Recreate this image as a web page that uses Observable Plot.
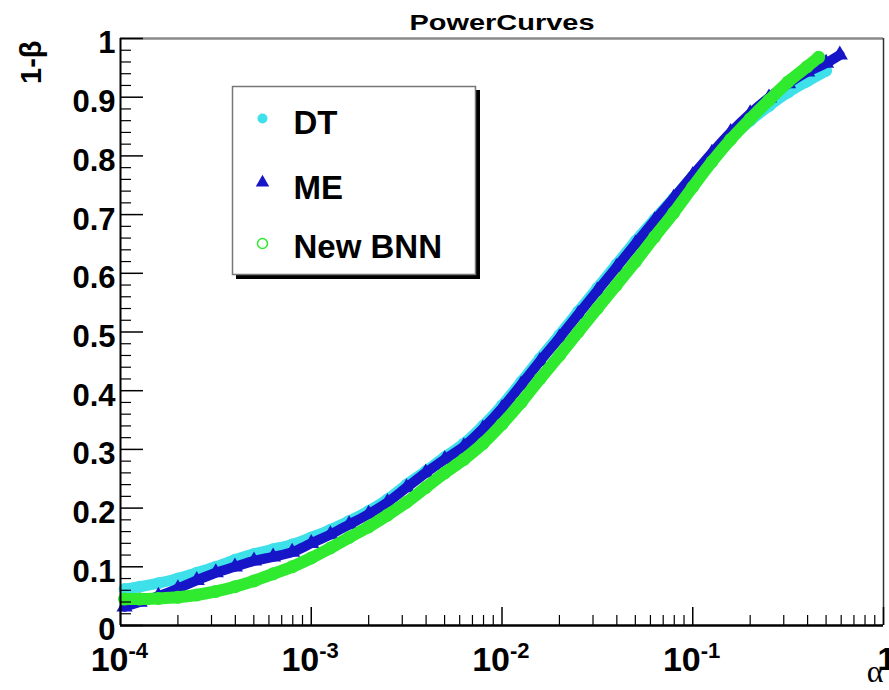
<!DOCTYPE html>
<html><head><meta charset="utf-8">
<script src="https://cdn.jsdelivr.net/npm/d3@7"></script>
<script src="https://cdn.jsdelivr.net/npm/@observablehq/plot@0.6"></script>
<style>body{margin:0;background:#fff} svg{display:block}</style>
</head><body><div id="chart"></div>
<script>
// ---- data ----
const alphaDT  = [1.05e-4,1.26e-4,1.58e-4,2.0e-4,2.51e-4,3.16e-4,3.98e-4,5.01e-4,6.31e-4,7.94e-4,1.0e-3,1.26e-3,1.58e-3,2.0e-3,2.51e-3,3.16e-3,3.98e-3,5.01e-3,6.31e-3,7.94e-3,1.0e-2,1.26e-2,1.58e-2,2.0e-2,2.51e-2,3.16e-2,3.98e-2,5.01e-2,6.31e-2,7.94e-2,0.1,0.126,0.158,0.2,0.251,0.316,0.398,0.5];
const powerDT  = [0.062,0.066,0.072,0.080,0.090,0.100,0.112,0.122,0.130,0.138,0.150,0.163,0.178,0.195,0.215,0.240,0.263,0.287,0.310,0.340,0.375,0.415,0.455,0.495,0.535,0.575,0.615,0.655,0.692,0.728,0.765,0.800,0.830,0.860,0.885,0.908,0.927,0.945];
const alphaME  = [1.05e-4,1.26e-4,1.58e-4,2.0e-4,2.51e-4,3.16e-4,3.98e-4,5.01e-4,6.31e-4,7.94e-4,1.0e-3,1.26e-3,1.58e-3,2.0e-3,2.51e-3,3.16e-3,3.98e-3,5.01e-3,6.31e-3,7.94e-3,1.0e-2,1.26e-2,1.58e-2,2.0e-2,2.51e-2,3.16e-2,3.98e-2,5.01e-2,6.31e-2,7.94e-2,0.1,0.126,0.158,0.2,0.251,0.316,0.398,0.5,0.59];
const powerME  = [0.032,0.040,0.050,0.063,0.077,0.090,0.100,0.110,0.117,0.125,0.140,0.155,0.172,0.190,0.210,0.235,0.260,0.283,0.305,0.335,0.370,0.410,0.450,0.490,0.530,0.570,0.610,0.650,0.690,0.728,0.767,0.805,0.840,0.872,0.899,0.923,0.943,0.958,0.972];
const alphaBNN = [1.05e-4,1.26e-4,1.58e-4,2.0e-4,2.51e-4,3.16e-4,3.98e-4,5.01e-4,6.31e-4,7.94e-4,1.0e-3,1.26e-3,1.58e-3,2.0e-3,2.51e-3,3.16e-3,3.98e-3,5.01e-3,6.31e-3,7.94e-3,1.0e-2,1.26e-2,1.58e-2,2.0e-2,2.51e-2,3.16e-2,3.98e-2,5.01e-2,6.31e-2,7.94e-2,0.1,0.126,0.158,0.2,0.251,0.316,0.398,0.457];
const powerBNN = [0.045,0.045,0.046,0.048,0.052,0.058,0.066,0.076,0.088,0.100,0.115,0.132,0.150,0.168,0.188,0.210,0.235,0.260,0.283,0.310,0.343,0.380,0.420,0.460,0.500,0.540,0.580,0.620,0.662,0.703,0.747,0.790,0.828,0.863,0.895,0.926,0.952,0.968];

const seriesNames  = ["DT","ME","New BNN"];
const seriesColors = ["#3ee0ea","#1616c8","#30ea30"];

const yTickValues = [0,0.1,0.2,0.3,0.4,0.5,0.6,0.7,0.8,0.9,1];
const yTickLabels = ["0","0.1","0.2","0.3","0.4","0.5","0.6","0.7","0.8","0.9","1"];
const xTickValues = [1e-4,1e-3,1e-2,1e-1,1];
const xTickBase   = ["10","10","10","10",""];
const xTickExp    = ["-4","-3","-2","-1",""];
const xTickPlain  = ["","","","","1"];

const titleText = "PowerCurves";
const yTitle = "1-\u03B2";
const xTitle = "\u03B1";

// ---- layout ----
const W = 889, H = 690, mL = 120, mR = 6, mT = 38, mB = 65;
const fw = W - mL - mR, fh = H - mT - mB;
const font = "Liberation Sans, Arial, Helvetica, sans-serif";

const rows = (xs, ys) => xs.map((a, i) => ({alpha: a, power: ys[i]}));
const dt = rows(alphaDT, powerDT), me = rows(alphaME, powerME), bnn = rows(alphaBNN, powerBNN);

const yMinor = d3.range(0, 1.0001, 0.02).filter(v => Math.abs(v*10 - Math.round(v*10)) > 1e-6);
const xMinor = [];
for (let e = -4; e < 0; e++) for (let k = 2; k <= 9; k++) xMinor.push(k * Math.pow(10, e));

const legendMarks = [];
const legendDy = [80, 144, 205];
const legendTextDy = [95, 160, 219];
const symbols = ["circle", "triangle", "circle"];
seriesNames.forEach((name, i) => {
  legendMarks.push(Plot.dot([name], {frameAnchor: "top-left", dx: 142, dy: legendDy[i], r: 5,
    symbol: symbols[i], fill: i === 2 ? "none" : seriesColors[i], stroke: i === 2 ? seriesColors[i] : "none", strokeWidth: 1.5}));
  legendMarks.push(Plot.text([name], {text: d => d, frameAnchor: "top-left", dx: 173, dy: legendTextDy[i],
    textAnchor: "start", lineAnchor: "bottom", fontSize: 33, fontWeight: "bold", fill: "black"}));
});

const chart = Plot.plot({
  width: W, height: H,
  marginLeft: mL, marginRight: mR, marginTop: mT, marginBottom: mB,
  style: {fontFamily: font, background: "white", color: "black", overflow: "visible"},
  x: {type: "log", domain: [1e-4, 1], axis: null},
  y: {domain: [0, 1], axis: null},
  marks: [
    // DT
    Plot.line(dt, {x: "alpha", y: "power", stroke: seriesColors[0], strokeWidth: 11, strokeLinecap: "round", strokeLinejoin: "round", curve: "monotone-x"}),
    Plot.dot(dt, {x: "alpha", y: "power", r: 6, fill: seriesColors[0], symbol: "circle"}),
    // ME
    Plot.line(me, {x: "alpha", y: "power", stroke: seriesColors[1], strokeWidth: 10, strokeLinecap: "round", strokeLinejoin: "round", curve: "monotone-x"}),
    Plot.dot(me, {x: "alpha", y: "power", r: 6, fill: seriesColors[1], symbol: "triangle"}),
    // New BNN
    Plot.line(bnn, {x: "alpha", y: "power", stroke: seriesColors[2], strokeWidth: 12, strokeLinecap: "round", strokeLinejoin: "round", curve: "monotone-x"}),
    Plot.dot(bnn, {x: "alpha", y: "power", r: 5.5, fill: "none", stroke: seriesColors[2], strokeWidth: 2, symbol: "circle"}),

    // frame
    Plot.ruleY([1], {y: d => d, stroke: "#8a8a8a", strokeWidth: 2.5}),
    Plot.ruleX([1], {x: d => d, stroke: "#333", strokeWidth: 1.5}),
    Plot.ruleX([1e-4], {x: d => d, stroke: "black", strokeWidth: 2}),
    Plot.ruleY([0], {y: d => d, stroke: "black", strokeWidth: 2.5}),

    // y ticks
    Plot.ruleY(yTickValues, {y: d => d, insetRight: fw - 23, stroke: "black", strokeWidth: 1.5}),
    Plot.ruleY(yMinor, {y: d => d, insetRight: fw - 11, stroke: "black", strokeWidth: 1.2}),
    // x ticks
    Plot.ruleX(xTickValues, {x: d => d, insetTop: fh - 18, stroke: "black", strokeWidth: 1.5}),
    Plot.ruleX(xMinor, {x: d => d, insetTop: fh - 10, stroke: "black", strokeWidth: 1.2}),

    // tick labels
    Plot.text(yTickValues, {y: d => d, text: (d, i) => yTickLabels[i], frameAnchor: "left", textAnchor: "end",
      dx: -5, dy: 5, fontSize: 31, fontWeight: "bold", fill: "black"}),
    Plot.text(xTickValues, {x: d => d, text: (d, i) => xTickBase[i], frameAnchor: "bottom", textAnchor: "end",
      lineAnchor: "bottom", dx: 8, dy: 45, fontSize: 34, fontWeight: "bold", fill: "black"}),
    Plot.text(xTickValues, {x: d => d, text: (d, i) => xTickExp[i], frameAnchor: "bottom", textAnchor: "start",
      lineAnchor: "bottom", dx: 8, dy: 32, fontSize: 22, fontWeight: "bold", fill: "black"}),
    Plot.text(xTickValues, {x: d => d, text: (d, i) => xTickPlain[i], frameAnchor: "bottom", textAnchor: "middle",
      lineAnchor: "bottom", dx: 3, dy: 44, fontSize: 32, fontWeight: "bold", fill: "black"}),

    // titles
    Plot.text([titleText], {text: d => d, frameAnchor: "top", lineAnchor: "bottom", dy: -9, fontSize: 22,
      fontWeight: "bold", fill: "black"}),
    Plot.text([yTitle], {text: d => d, frameAnchor: "top-left", dx: -100, dy: 2, rotate: -90, textAnchor: "end",
      fontSize: 29, fontWeight: "bold", fill: "black"}),
    Plot.text([xTitle], {text: d => d, frameAnchor: "bottom-right", textAnchor: "end", lineAnchor: "bottom",
      dx: 0, dy: 56, fontSize: 32, fontFamily: "Liberation Serif, Times New Roman, serif", fill: "black"}),

    // legend box with shadow
    Plot.frame({insetLeft: 116, insetTop: 52, insetRight: 404, insetBottom: fh - 240, fill: "black", stroke: "black"}),
    Plot.frame({insetLeft: 112, insetTop: 48, insetRight: 408, insetBottom: fh - 236, fill: "white", stroke: "#777", strokeWidth: 1.5}),
    ...legendMarks
  ]
});

d3.select(chart).selectAll("text")
  .filter(function() { return this.textContent === titleText; })
  .attr("textLength", 185).attr("lengthAdjust", "spacingAndGlyphs");

document.getElementById("chart").appendChild(chart);
</script>
</body></html>
